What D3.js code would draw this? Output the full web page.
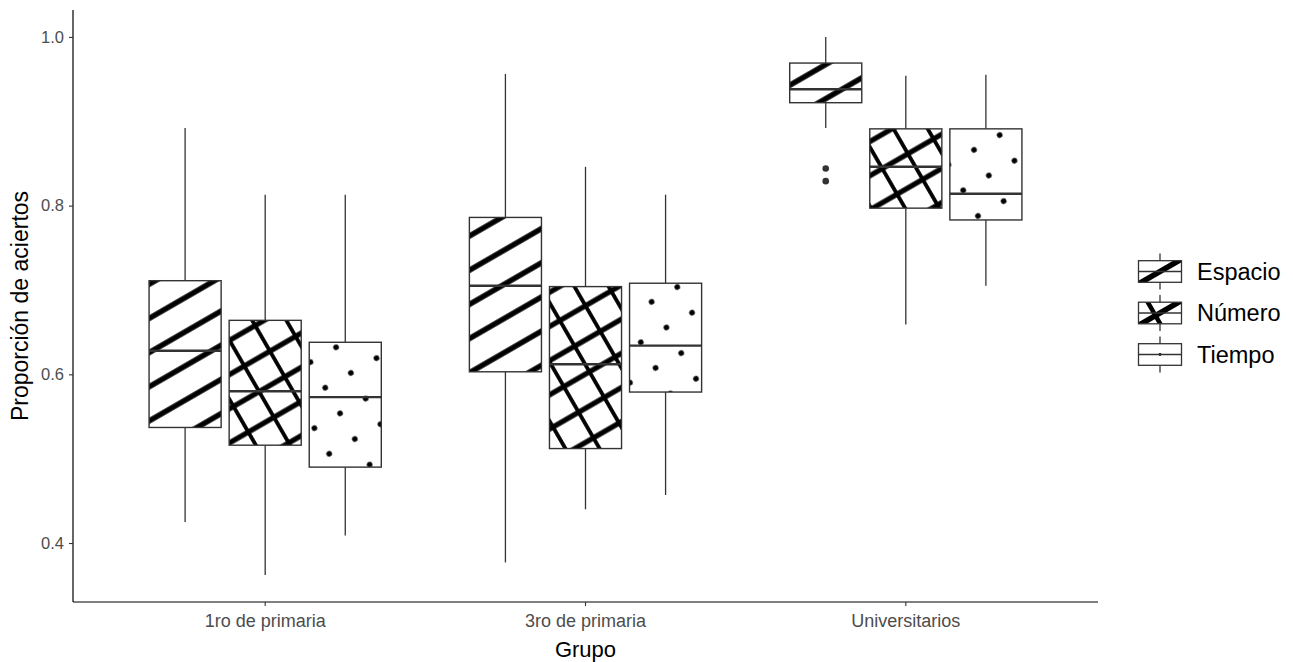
<!DOCTYPE html>
<html>
<head>
<meta charset="utf-8">
<script src="https://cdn.jsdelivr.net/npm/d3@7"></script>
<style>
  html, body { margin: 0; padding: 0; background: #fff; }
  svg { display: block; font-family: "Liberation Sans", Arial, sans-serif; }
</style>
</head>
<body>
<script>
// Groups on the x axis and the three task types
const groups = ["1ro de primaria", "3ro de primaria", "Universitarios"];
const series = ["Espacio", "Número", "Tiempo"];

// Box statistics per group: [lower whisker, Q1, median, Q3, upper whisker]
const espacio = [
  [0.425, 0.537, 0.628, 0.711, 0.892],
  [0.377, 0.603, 0.705, 0.786, 0.956],
  [0.892, 0.922, 0.938, 0.969, 1.000]
];
const numero = [
  [0.362, 0.516, 0.580, 0.664, 0.813],
  [0.440, 0.512, 0.612, 0.704, 0.846],
  [0.659, 0.797, 0.846, 0.891, 0.954]
];
const tiempo = [
  [0.409, 0.490, 0.573, 0.638, 0.813],
  [0.457, 0.579, 0.634, 0.708, 0.813],
  [0.705, 0.783, 0.814, 0.891, 0.955]
];
// Points beyond the whiskers
const outlierGroup = ["Universitarios", "Universitarios"];
const outlierSeries = ["Espacio", "Espacio"];
const outlierValue = [0.844, 0.829];

const yTicks = [0.4, 0.6, 0.8, 1.0];

const statsBySeries = { "Espacio": espacio, "Número": numero, "Tiempo": tiempo };
const patternBySeries = { "Espacio": "pat-stripe", "Número": "pat-cross", "Tiempo": "pat-dots" };

const W = 1293, H = 662;
const panel = { left: 73, right: 1098, top: 10, bottom: 602 };

const svg = d3.select("body").append("svg").attr("width", W).attr("height", H);

// y scale with 5% expansion around the data
const allVals = [espacio, numero, tiempo].flat(2).concat(outlierValue);
const [vmin, vmax] = d3.extent(allVals);
const pad = (vmax - vmin) * 0.05;
const y = d3.scaleLinear().domain([vmin - pad, vmax + pad]).range([panel.bottom, panel.top]);

// x scale: discrete groups with 0.6 unit of padding on each end
const x = d3.scaleBand().domain(groups).range([panel.left, panel.right]).paddingInner(0).paddingOuter(0.1);
const dodge = d3.scaleBand().domain(series)
  .range([-0.375 * x.step(), 0.375 * x.step()]);
const boxW = dodge.bandwidth() * 0.9;

// Fill patterns (shared lattice rotated 30 degrees)
const L = 29.6;
const defs = svg.append("defs");
function pattern(id) {
  return defs.append("pattern")
    .attr("id", id)
    .attr("patternUnits", "userSpaceOnUse")
    .attr("width", L).attr("height", L)
    .attr("patternTransform", `translate(340,413.3) rotate(-30) translate(${-L / 2},${-L / 2})`);
}
const pStripe = pattern("pat-stripe");
pStripe.append("rect").attr("x", -1).attr("y", L / 2 - 2.7).attr("width", L + 2).attr("height", 5.4).attr("fill", "#000");

const pCross = pattern("pat-cross");
pCross.append("rect").attr("x", -1).attr("y", L / 2 - 2.6).attr("width", L + 2).attr("height", 5.2).attr("fill", "#000");
pCross.append("rect").attr("x", L / 2 - 1.9).attr("y", -1).attr("width", 3.8).attr("height", L + 2).attr("fill", "#000");

const pDots = pattern("pat-dots");
pDots.append("circle").attr("cx", L / 2).attr("cy", L / 2).attr("r", 2.8).attr("fill", "#000");

const boxStroke = "#333333";

// Boxes
const plot = svg.append("g");
groups.forEach((g, gi) => {
  series.forEach(s => {
    const [lo, q1, med, q3, hi] = statsBySeries[s][gi];
    const cx = x(g) + x.bandwidth() / 2 + dodge(s) + dodge.bandwidth() / 2;
    const bg = plot.append("g");
    bg.append("line").attr("x1", cx).attr("x2", cx).attr("y1", y(hi)).attr("y2", y(q3))
      .attr("stroke", boxStroke).attr("stroke-width", 1.3);
    bg.append("line").attr("x1", cx).attr("x2", cx).attr("y1", y(q1)).attr("y2", y(lo))
      .attr("stroke", boxStroke).attr("stroke-width", 1.3);
    bg.append("rect").attr("x", cx - boxW / 2).attr("y", y(q3)).attr("width", boxW).attr("height", y(q1) - y(q3))
      .attr("fill", "#fff");
    bg.append("rect").attr("x", cx - boxW / 2).attr("y", y(q3)).attr("width", boxW).attr("height", y(q1) - y(q3))
      .attr("fill", `url(#${patternBySeries[s]})`)
      .attr("stroke", boxStroke).attr("stroke-width", 1.4);
    bg.append("line").attr("x1", cx - boxW / 2).attr("x2", cx + boxW / 2).attr("y1", y(med)).attr("y2", y(med))
      .attr("stroke", boxStroke).attr("stroke-width", 2.4);
  });
});

// Outliers
plot.selectAll("circle.out").data(outlierValue).join("circle")
  .attr("class", "out")
  .attr("cx", (d, i) => x(outlierGroup[i]) + x.bandwidth() / 2 + dodge(outlierSeries[i]) + dodge.bandwidth() / 2)
  .attr("cy", d => y(d))
  .attr("r", 3.3)
  .attr("fill", boxStroke);

// Axes
const yAxis = svg.append("g").attr("transform", `translate(${panel.left},0)`)
  .call(d3.axisLeft(y).tickValues(yTicks).tickFormat(d3.format(".1f")).tickSize(4).tickSizeOuter(0).tickPadding(5));
yAxis.select(".domain").attr("d", `M0,${panel.top}V${panel.bottom}`).attr("stroke", "#000").attr("stroke-width", 1.2);
yAxis.selectAll(".tick line").attr("stroke", "#333").attr("stroke-width", 1.1);
yAxis.selectAll(".tick text").attr("fill", "#4d4d4d").attr("font-size", 16.5).attr("font-family", "Liberation Sans, Arial, sans-serif");

const xAxis = svg.append("g").attr("transform", `translate(0,${panel.bottom})`)
  .call(d3.axisBottom(x).tickSize(4).tickSizeOuter(0).tickPadding(8));
xAxis.select(".domain").attr("d", `M${panel.left},0H${panel.right}`).attr("stroke", "#000").attr("stroke-width", 1.2);
xAxis.selectAll(".tick line").attr("stroke", "#333").attr("stroke-width", 1.1);
xAxis.selectAll(".tick text").attr("fill", "#4d4d4d").attr("font-size", 18).attr("font-family", "Liberation Sans, Arial, sans-serif");

// Axis titles
svg.append("text").attr("x", (panel.left + panel.right) / 2).attr("y", 657)
  .attr("text-anchor", "middle").attr("font-size", 22).attr("fill", "#000").text("Grupo");
svg.append("text").attr("transform", `translate(28,${(panel.top + panel.bottom) / 2}) rotate(-90)`)
  .attr("text-anchor", "middle").attr("font-size", 23).attr("fill", "#000").text("Proporción de aciertos");

// Legend
const legend = svg.append("g");
const keyCx = 1160, keyW = 43, keyStep = 41.5, keyTop = 271.5;
series.forEach((s, i) => {
  const cy = keyTop + i * keyStep;
  const k = legend.append("g");
  const clipId = `key-clip-${i}`;
  defs.append("clipPath").attr("id", clipId).append("rect")
    .attr("x", keyCx - keyW / 2).attr("y", cy - 10.8).attr("width", keyW).attr("height", 21.6);
  k.append("line").attr("x1", keyCx).attr("x2", keyCx).attr("y1", cy - 18).attr("y2", cy + 18)
    .attr("stroke", boxStroke).attr("stroke-width", 1.3);
  k.append("rect").attr("x", keyCx - keyW / 2).attr("y", cy - 10.8).attr("width", keyW).attr("height", 21.6)
    .attr("fill", "#fff");
  const pg = k.append("g").attr("clip-path", `url(#${clipId})`);
  const a = 30 * Math.PI / 180;
  const ux = Math.cos(a), uy = -Math.sin(a), vx = Math.sin(a), vy = Math.cos(a);
  if (s === "Espacio" || s === "Número") {
    pg.append("line").attr("x1", keyCx - 40 * ux).attr("y1", cy - 40 * uy).attr("x2", keyCx + 40 * ux).attr("y2", cy + 40 * uy)
      .attr("stroke", "#000").attr("stroke-width", 5.5);
  }
  if (s === "Número") {
    pg.append("line").attr("x1", keyCx - 6 - 30 * vx).attr("y1", cy - 30 * vy).attr("x2", keyCx - 6 + 30 * vx).attr("y2", cy + 30 * vy)
      .attr("stroke", "#000").attr("stroke-width", 4.5);
  }
  if (s === "Tiempo") {
    pg.append("circle").attr("cx", keyCx).attr("cy", cy).attr("r", 1.4).attr("fill", "#000");
  }
  k.append("rect").attr("x", keyCx - keyW / 2).attr("y", cy - 10.8).attr("width", keyW).attr("height", 21.6)
    .attr("fill", "none").attr("stroke", boxStroke).attr("stroke-width", 1.3);
  k.append("line").attr("x1", keyCx - keyW / 2).attr("x2", keyCx + keyW / 2).attr("y1", cy).attr("y2", cy)
    .attr("stroke", boxStroke).attr("stroke-width", 1.5);
  k.append("text").attr("x", 1197).attr("y", cy).attr("dy", "0.35em")
    .attr("font-size", 23.5).attr("fill", "#000").text(s);
});
</script>
</body>
</html>
